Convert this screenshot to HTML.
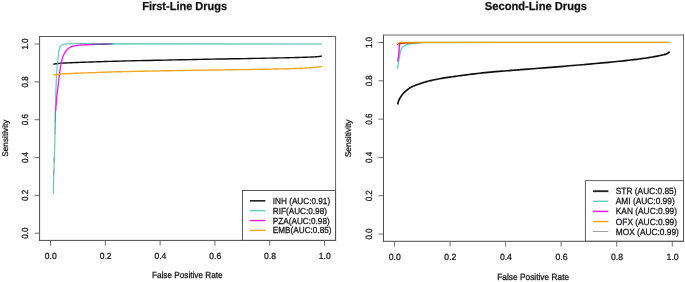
<!DOCTYPE html>
<html lang="en">
<head>
<meta charset="utf-8">
<title>ROC curves</title>
<style>
html,body{margin:0;padding:0;background:#fff;}
body{width:685px;height:282px;overflow:hidden;font-family:"Liberation Sans",sans-serif;}
svg{display:block;will-change:transform;}
svg text{text-rendering:geometricPrecision;stroke:#111;stroke-width:0.24px;}
</style>
</head>
<body>
<svg width="685" height="282" viewBox="0 0 685 282" role="img" aria-label="ROC curves for first-line and second-line drugs">
<rect x="0" y="0" width="685" height="282" fill="#ffffff"/>
<defs><filter id="soft" x="0" y="0" width="685" height="282" filterUnits="userSpaceOnUse"><feGaussianBlur stdDeviation="0.33"/></filter></defs>
<g filter="url(#soft)">
<g font-family="'Liberation Sans', sans-serif" fill="#111">
<text transform="translate(27.70,233.20) rotate(-90) scale(0.976,1.085)" text-anchor="middle" font-size="8.2">0.0</text>
<text transform="translate(50.80,258.80) scale(1,1.04)" text-anchor="middle" font-size="8.55">0.0</text>
<text transform="translate(27.70,195.37) rotate(-90) scale(0.976,1.085)" text-anchor="middle" font-size="8.2">0.2</text>
<text transform="translate(105.60,258.80) scale(1,1.04)" text-anchor="middle" font-size="8.55">0.2</text>
<text transform="translate(27.70,157.54) rotate(-90) scale(0.976,1.085)" text-anchor="middle" font-size="8.2">0.4</text>
<text transform="translate(160.40,258.80) scale(1,1.04)" text-anchor="middle" font-size="8.55">0.4</text>
<text transform="translate(27.70,119.71) rotate(-90) scale(0.976,1.085)" text-anchor="middle" font-size="8.2">0.6</text>
<text transform="translate(215.20,258.80) scale(1,1.04)" text-anchor="middle" font-size="8.55">0.6</text>
<text transform="translate(27.70,81.88) rotate(-90) scale(0.976,1.085)" text-anchor="middle" font-size="8.2">0.8</text>
<text transform="translate(270.00,258.80) scale(1,1.04)" text-anchor="middle" font-size="8.55">0.8</text>
<text transform="translate(27.70,44.05) rotate(-90) scale(0.976,1.085)" text-anchor="middle" font-size="8.2">1.0</text>
<text transform="translate(324.80,258.80) scale(1,1.04)" text-anchor="middle" font-size="8.55">1.0</text>
<text transform="translate(187.24,278.35) scale(1,1.08)" text-anchor="middle" font-size="8.2">False Positive Rate</text>
<text transform="translate(7.70,138.20) rotate(-90) scale(1.01,1)" text-anchor="middle" font-size="8.2">Sensitivity</text>
<text x="142.2" y="10.1" font-size="11.6" font-weight="bold" fill="#111" textLength="84.9" lengthAdjust="spacingAndGlyphs" style="stroke:#111;stroke-width:0.25px">First-Line Drugs</text>
<text transform="translate(372.00,234.05) rotate(-90) scale(0.958,1.085)" text-anchor="middle" font-size="8.35">0.0</text>
<text transform="translate(394.80,259.50) scale(1,1.04)" text-anchor="middle" font-size="8.65">0.0</text>
<text transform="translate(372.00,195.74) rotate(-90) scale(0.958,1.085)" text-anchor="middle" font-size="8.35">0.2</text>
<text transform="translate(450.36,259.50) scale(1,1.04)" text-anchor="middle" font-size="8.65">0.2</text>
<text transform="translate(372.00,157.43) rotate(-90) scale(0.958,1.085)" text-anchor="middle" font-size="8.35">0.4</text>
<text transform="translate(505.92,259.50) scale(1,1.04)" text-anchor="middle" font-size="8.65">0.4</text>
<text transform="translate(372.00,119.12) rotate(-90) scale(0.958,1.085)" text-anchor="middle" font-size="8.35">0.6</text>
<text transform="translate(561.48,259.50) scale(1,1.04)" text-anchor="middle" font-size="8.65">0.6</text>
<text transform="translate(372.00,80.81) rotate(-90) scale(0.958,1.085)" text-anchor="middle" font-size="8.35">0.8</text>
<text transform="translate(617.04,259.50) scale(1,1.04)" text-anchor="middle" font-size="8.65">0.8</text>
<text transform="translate(372.00,42.50) rotate(-90) scale(0.958,1.085)" text-anchor="middle" font-size="8.35">1.0</text>
<text transform="translate(672.60,259.50) scale(1,1.04)" text-anchor="middle" font-size="8.65">1.0</text>
<text transform="translate(533.17,280.40) scale(1,1.08)" text-anchor="middle" font-size="8.35">False Positive Rate</text>
<text transform="translate(351.25,138.40) rotate(-90) scale(1.01,1)" text-anchor="middle" font-size="8.35">Sensitivity</text>
<text x="484.8" y="10.1" font-size="11.6" font-weight="bold" fill="#111" textLength="102.2" lengthAdjust="spacingAndGlyphs" style="stroke:#111;stroke-width:0.25px">Second-Line Drugs</text>
</g>
<g fill="none" stroke-linejoin="round" stroke-linecap="butt">
<path d="M53.20,64.30 L53.46,64.25 L53.78,64.17 L54.16,64.08 L54.60,63.99 L55.10,63.89 L55.67,63.78 L56.30,63.69 L57.00,63.60 L57.75,63.52 L58.54,63.44 L59.38,63.37 L60.30,63.29 L61.30,63.22 L62.41,63.15 L63.64,63.07 L65.00,63.00 L66.51,62.93 L68.14,62.85 L69.89,62.78 L71.75,62.71 L73.70,62.63 L75.73,62.56 L77.84,62.48 L80.00,62.40 L82.26,62.32 L84.65,62.23 L87.13,62.14 L89.69,62.05 L92.28,61.96 L94.88,61.87 L97.47,61.78 L100.00,61.70 L102.36,61.62 L104.53,61.55 L106.62,61.48 L108.75,61.41 L111.04,61.34 L113.59,61.27 L116.54,61.19 L120.00,61.10 L124.04,61.00 L128.59,60.89 L133.54,60.78 L138.75,60.66 L144.12,60.54 L149.53,60.43 L154.86,60.31 L160.00,60.20 L164.93,60.10 L169.77,60.00 L174.56,59.90 L179.38,59.80 L184.27,59.70 L189.30,59.60 L194.52,59.50 L200.00,59.40 L205.91,59.29 L212.27,59.17 L218.90,59.06 L225.62,58.94 L232.28,58.82 L238.67,58.71 L244.64,58.60 L250.00,58.50 L254.78,58.41 L259.14,58.33 L263.15,58.25 L266.88,58.17 L270.36,58.10 L273.67,58.04 L276.87,57.97 L280.00,57.90 L283.03,57.83 L285.89,57.77 L288.58,57.70 L291.12,57.64 L293.53,57.58 L295.80,57.52 L297.95,57.46 L300.00,57.40 L301.92,57.35 L303.70,57.29 L305.35,57.24 L306.88,57.19 L308.29,57.15 L309.61,57.10 L310.84,57.05 L312.00,57.00 L313.05,56.95 L313.97,56.90 L314.78,56.86 L315.51,56.81 L316.17,56.76 L316.79,56.71 L317.39,56.66 L318.00,56.60 L318.61,56.53 L319.21,56.45 L319.79,56.36 L320.32,56.28 L320.82,56.19 L321.25,56.11 L321.61,56.05 L321.90,56.00" stroke="#111" stroke-width="1.4"/>
<path d="M53.30,193.80 L53.35,191.88 L53.41,189.23 L53.49,186.09 L53.57,182.68 L53.66,179.24 L53.75,176.00 L53.84,172.94 L53.94,169.87 L54.04,166.76 L54.14,163.60 L54.25,160.35 L54.35,157.00 L54.46,153.56 L54.57,150.07 L54.68,146.50 L54.79,142.81 L54.90,138.99 L55.00,135.00 L55.09,130.62 L55.19,125.81 L55.27,120.88 L55.36,116.07 L55.43,111.69 L55.50,108.00 L55.55,105.18 L55.59,103.04 L55.62,101.31 L55.65,99.74 L55.69,98.06 L55.75,96.00 L55.82,93.52 L55.90,90.81 L55.99,88.00 L56.09,85.19 L56.19,82.48 L56.30,80.00 L56.42,77.74 L56.54,75.61 L56.68,73.59 L56.82,71.67 L56.96,69.81 L57.10,68.00 L57.25,66.24 L57.40,64.54 L57.56,62.91 L57.71,61.35 L57.86,59.88 L58.00,58.50 L58.13,57.21 L58.24,56.00 L58.36,54.88 L58.47,53.83 L58.58,52.88 L58.70,52.00 L58.83,51.22 L58.96,50.55 L59.09,49.96 L59.23,49.44 L59.37,48.96 L59.50,48.50 L59.63,48.08 L59.76,47.72 L59.89,47.41 L60.02,47.12 L60.16,46.86 L60.30,46.60 L60.44,46.35 L60.58,46.13 L60.73,45.93 L60.88,45.74 L61.06,45.57 L61.25,45.40 L61.47,45.24 L61.71,45.09 L61.96,44.96 L62.23,44.83 L62.51,44.71 L62.80,44.60 L63.08,44.50 L63.35,44.40 L63.63,44.32 L63.95,44.24 L64.33,44.17 L64.80,44.10 L65.37,44.04 L66.03,43.98 L66.74,43.92 L67.50,43.88 L68.26,43.84 L69.00,43.80 L69.59,43.77 L70.03,43.75 L70.48,43.73 L71.10,43.72 L72.05,43.71 L73.50,43.70 L75.47,43.69 L77.83,43.69 L80.53,43.69 L83.50,43.69 L86.68,43.69 L90.00,43.70 L93.84,43.71 L98.33,43.73 L103.03,43.75 L107.50,43.77 L111.30,43.79 L114.00,43.80" stroke="#5ccdb8" stroke-width="1.2"/>
<path d="M110,43.9 L321.9,43.95" stroke="#78d3c9" stroke-width="1.65"/>
<path d="M55.60,111.00 L55.63,110.65 L55.67,110.22 L55.72,109.69 L55.78,109.00 L55.85,108.12 L55.95,107.00 L56.07,105.58 L56.21,103.89 L56.36,102.00 L56.53,100.00 L56.71,97.97 L56.90,96.00 L57.11,94.01 L57.35,91.91 L57.60,89.79 L57.85,87.72 L58.09,85.76 L58.30,84.00 L58.47,82.49 L58.62,81.20 L58.75,80.02 L58.88,78.87 L59.03,77.66 L59.20,76.30 L59.40,74.74 L59.63,73.06 L59.86,71.31 L60.11,69.57 L60.36,67.91 L60.60,66.40 L60.85,65.02 L61.10,63.71 L61.35,62.49 L61.60,61.34 L61.85,60.28 L62.10,59.30 L62.34,58.43 L62.57,57.66 L62.81,56.97 L63.04,56.34 L63.27,55.76 L63.50,55.20 L63.73,54.68 L63.96,54.21 L64.19,53.78 L64.43,53.38 L64.66,52.99 L64.90,52.60 L65.14,52.21 L65.38,51.83 L65.62,51.46 L65.87,51.10 L66.13,50.74 L66.40,50.40 L66.69,50.06 L66.99,49.73 L67.30,49.40 L67.62,49.09 L67.96,48.78 L68.30,48.50 L68.65,48.23 L69.01,47.98 L69.39,47.74 L69.77,47.52 L70.18,47.30 L70.60,47.10 L71.02,46.91 L71.43,46.73 L71.86,46.57 L72.33,46.41 L72.87,46.26 L73.50,46.10 L74.24,45.94 L75.06,45.77 L75.95,45.61 L76.89,45.46 L77.84,45.32 L78.80,45.20 L79.75,45.10 L80.71,45.03 L81.69,44.96 L82.70,44.91 L83.77,44.86 L84.90,44.80 L86.12,44.74 L87.43,44.69 L88.78,44.64 L90.15,44.59 L91.50,44.54 L92.80,44.50 L94.03,44.46 L95.22,44.43 L96.39,44.39 L97.57,44.36 L98.76,44.33 L100.00,44.30 L101.38,44.26 L102.90,44.23 L104.45,44.19 L105.90,44.15 L107.12,44.12 L108.00,44.10" stroke="#f01ee6" stroke-width="1.38"/>
<path d="M55.3,122 L55.5,110" stroke="#4f6fb0" stroke-width="1.3" opacity="0.6"/>
<path d="M55.0,134 L55.3,122" stroke="#4f6fb0" stroke-width="1.3" opacity="0.33"/>
<path d="M53.95,163 L54.15,157" stroke="#7a78c0" stroke-width="0.8" opacity="0.8"/>
<path d="M53.55,176 L53.75,169" stroke="#7a78c0" stroke-width="0.8" opacity="0.8"/>
<defs><linearGradient id="gb" gradientUnits="userSpaceOnUse" x1="88" y1="0" x2="114" y2="0"><stop offset="0" stop-color="#e832e2" stop-opacity="0"/><stop offset="0.14" stop-color="#a446c0"/><stop offset="0.3" stop-color="#585aa2"/><stop offset="0.88" stop-color="#48629e"/><stop offset="1" stop-color="#78d3c9"/></linearGradient></defs>
<path d="M88,44.6 L96,44.35 L104,44.15 L114,44.0" stroke="url(#gb)" stroke-width="1.35"/>
<path d="M53.20,75.10 L53.46,75.05 L53.78,74.99 L54.16,74.92 L54.60,74.84 L55.10,74.76 L55.67,74.67 L56.30,74.58 L57.00,74.50 L57.75,74.42 L58.54,74.33 L59.38,74.24 L60.30,74.16 L61.30,74.07 L62.41,73.98 L63.64,73.89 L65.00,73.80 L66.51,73.71 L68.14,73.62 L69.89,73.54 L71.75,73.45 L73.70,73.36 L75.73,73.27 L77.84,73.19 L80.00,73.10 L82.26,73.01 L84.65,72.92 L87.13,72.84 L89.69,72.75 L92.28,72.66 L94.88,72.58 L97.47,72.49 L100.00,72.40 L102.36,72.31 L104.53,72.23 L106.62,72.14 L108.75,72.06 L111.04,71.97 L113.59,71.88 L116.54,71.79 L120.00,71.70 L124.04,71.60 L128.59,71.50 L133.54,71.40 L138.75,71.30 L144.12,71.20 L149.53,71.10 L154.86,71.00 L160.00,70.90 L164.93,70.81 L169.77,70.72 L174.56,70.63 L179.38,70.54 L184.27,70.46 L189.30,70.37 L194.52,70.29 L200.00,70.20 L205.91,70.11 L212.27,70.02 L218.90,69.93 L225.62,69.84 L232.28,69.76 L238.67,69.67 L244.64,69.58 L250.00,69.50 L254.78,69.42 L259.14,69.34 L263.15,69.27 L266.88,69.19 L270.36,69.12 L273.67,69.05 L276.87,68.97 L280.00,68.90 L283.03,68.83 L285.89,68.75 L288.58,68.68 L291.12,68.61 L293.53,68.53 L295.80,68.46 L297.95,68.38 L300.00,68.30 L301.92,68.22 L303.70,68.13 L305.35,68.04 L306.88,67.95 L308.29,67.86 L309.61,67.77 L310.84,67.68 L312.00,67.60 L313.05,67.52 L313.97,67.45 L314.78,67.37 L315.51,67.30 L316.17,67.23 L316.79,67.15 L317.39,67.08 L318.00,67.00 L318.61,66.91 L319.21,66.82 L319.79,66.71 L320.32,66.61 L320.82,66.52 L321.25,66.43 L321.61,66.35 L321.90,66.30" stroke="#f5a623" stroke-width="1.4"/>
<path d="M397.60,104.50 L397.67,104.24 L397.75,103.89 L397.86,103.47 L397.98,103.01 L398.10,102.53 L398.23,102.05 L398.37,101.60 L398.50,101.20 L398.63,100.84 L398.76,100.51 L398.90,100.19 L399.04,99.88 L399.19,99.57 L399.34,99.26 L399.51,98.94 L399.70,98.60 L399.90,98.24 L400.11,97.88 L400.34,97.50 L400.58,97.12 L400.82,96.74 L401.07,96.36 L401.33,95.98 L401.60,95.60 L401.87,95.22 L402.16,94.83 L402.45,94.44 L402.75,94.06 L403.06,93.67 L403.37,93.30 L403.68,92.94 L404.00,92.60 L404.32,92.28 L404.64,91.98 L404.96,91.70 L405.29,91.42 L405.63,91.15 L405.98,90.87 L406.33,90.59 L406.70,90.30 L407.08,89.99 L407.47,89.67 L407.86,89.35 L408.27,89.02 L408.68,88.70 L409.11,88.39 L409.55,88.09 L410.00,87.80 L410.46,87.53 L410.94,87.28 L411.43,87.03 L411.93,86.80 L412.44,86.57 L412.96,86.35 L413.48,86.12 L414.00,85.90 L414.50,85.68 L414.98,85.48 L415.45,85.29 L415.94,85.09 L416.45,84.89 L417.02,84.68 L417.67,84.45 L418.40,84.20 L419.23,83.92 L420.13,83.61 L421.09,83.28 L422.11,82.94 L423.18,82.60 L424.29,82.26 L425.43,81.92 L426.60,81.60 L427.81,81.29 L429.08,80.97 L430.40,80.66 L431.75,80.35 L433.12,80.05 L434.49,79.75 L435.86,79.47 L437.20,79.20 L438.45,78.95 L439.60,78.73 L440.70,78.53 L441.83,78.33 L443.04,78.13 L444.40,77.91 L445.96,77.67 L447.80,77.40 L449.95,77.09 L452.37,76.74 L455.00,76.37 L457.78,75.99 L460.64,75.60 L463.52,75.22 L466.36,74.85 L469.10,74.50 L471.76,74.17 L474.43,73.85 L477.09,73.53 L479.75,73.22 L482.41,72.93 L485.07,72.64 L487.74,72.36 L490.40,72.10 L493.12,71.85 L495.94,71.61 L498.78,71.38 L501.61,71.16 L504.37,70.96 L507.01,70.76 L509.47,70.57 L511.70,70.40 L513.44,70.26 L514.63,70.16 L515.51,70.09 L516.33,70.02 L517.34,69.93 L518.79,69.82 L520.93,69.64 L524.00,69.40 L528.08,69.08 L532.96,68.70 L538.48,68.28 L544.46,67.82 L550.74,67.33 L557.13,66.82 L563.48,66.31 L569.60,65.80 L575.79,65.27 L582.32,64.70 L589.03,64.11 L595.75,63.51 L602.31,62.92 L608.53,62.34 L614.25,61.80 L619.30,61.30 L623.66,60.85 L627.48,60.43 L630.86,60.04 L633.88,59.67 L636.62,59.32 L639.18,58.98 L641.64,58.64 L644.10,58.30 L646.49,57.96 L648.70,57.63 L650.74,57.30 L652.64,56.98 L654.40,56.67 L656.03,56.37 L657.56,56.08 L659.00,55.80 L660.31,55.54 L661.47,55.29 L662.50,55.05 L663.43,54.82 L664.25,54.60 L665.01,54.37 L665.72,54.14 L666.40,53.90 L667.03,53.63 L667.59,53.34 L668.08,53.03 L668.51,52.73 L668.88,52.44 L669.20,52.18 L669.47,51.96 L669.70,51.80" stroke="#111" stroke-width="1.65"/>
<path d="M397.60,68.50 L397.69,67.79 L397.82,66.81 L397.98,65.65 L398.14,64.40 L398.32,63.15 L398.50,62.00 L398.69,60.90 L398.89,59.77 L399.11,58.65 L399.32,57.56 L399.52,56.53 L399.70,55.60 L399.85,54.77 L399.99,54.01 L400.11,53.32 L400.23,52.68 L400.36,52.08 L400.50,51.50 L400.64,50.96 L400.78,50.48 L400.93,50.04 L401.09,49.62 L401.27,49.21 L401.50,48.80 L401.78,48.38 L402.09,47.97 L402.44,47.56 L402.80,47.18 L403.16,46.82 L403.50,46.50 L403.83,46.22 L404.17,45.97 L404.50,45.76 L404.83,45.56 L405.17,45.38 L405.50,45.20 L405.82,45.04 L406.13,44.89 L406.44,44.76 L406.77,44.63 L407.11,44.52 L407.50,44.40 L407.91,44.29 L408.34,44.19 L408.79,44.09 L409.27,43.99 L409.81,43.90 L410.40,43.80 L411.06,43.70 L411.79,43.59 L412.57,43.49 L413.37,43.39 L414.19,43.29 L415.00,43.20 L415.80,43.12 L416.60,43.05 L417.41,42.98 L418.24,42.92 L419.10,42.86 L420.00,42.80 L418.19,42.74 L413.12,42.68 L408.08,42.63 L406.36,42.58 L411.23,42.53 L426.00,42.50 L455.68,42.48 L498.65,42.46 L548.23,42.46 L597.71,42.45 L640.44,42.45 L669.70,42.45" stroke="#5fd0c0" stroke-width="1.3"/>
<path d="M397.70,61.70 L397.80,61.08 L397.95,60.23 L398.12,59.23 L398.30,58.13 L398.46,57.03 L398.60,56.00 L398.71,55.00 L398.80,53.97 L398.89,52.92 L398.96,51.90 L399.03,50.92 L399.10,50.00 L399.16,49.13 L399.21,48.28 L399.25,47.47 L399.29,46.72 L399.34,46.06 L399.40,45.50 L399.47,45.06 L399.54,44.74 L399.62,44.50 L399.71,44.31 L399.80,44.16 L399.90,44.00 L400.01,43.85 L400.14,43.74 L400.28,43.66 L400.41,43.59 L400.52,43.54 L400.60,43.50" stroke="#f01ee6" stroke-width="1.5"/>
<path d="M397.30,44.40 L397.43,44.27 L397.61,44.09 L397.83,43.88 L398.07,43.66 L398.33,43.46 L398.60,43.30 L398.86,43.18 L399.13,43.08 L399.41,42.99 L399.73,42.92 L400.08,42.86 L400.50,42.80 L400.94,42.75 L401.38,42.71 L401.87,42.67 L402.44,42.65 L403.14,42.62 L404.00,42.60 L405.07,42.58 L406.33,42.56 L407.72,42.54 L409.17,42.53 L410.61,42.51 L412.00,42.50 L410.54,42.49 L405.71,42.48 L400.89,42.47 L399.43,42.46 L404.68,42.45 L420.00,42.45 L450.52,42.45 L494.58,42.45 L545.35,42.45 L596.01,42.45 L639.74,42.45 L669.70,42.45" stroke="#f5a300" stroke-width="1.3"/>
<defs><linearGradient id="gr" gradientUnits="userSpaceOnUse" x1="397" y1="0" x2="425" y2="0"><stop offset="0" stop-color="#d81c12" stop-opacity="1"/><stop offset="0.28" stop-color="#cc3010" stop-opacity="1"/><stop offset="0.45" stop-color="#b05a10" stop-opacity="0.95"/><stop offset="0.8" stop-color="#c07808" stop-opacity="0.8"/><stop offset="1" stop-color="#f5a300" stop-opacity="0"/></linearGradient></defs>
<path d="M397.2,44.7 L398.8,43.85 L401,43.45 L406,43.25 L425,43.1" stroke="url(#gr)" stroke-width="0.95"/>
</g>
<line x1="249.8" y1="200.85" x2="265.4" y2="200.85" stroke="#000" stroke-width="1.4"/>
<text transform="translate(272.8,203.90) scale(1,1.07)" font-size="8.2" font-family="'Liberation Sans', sans-serif" fill="#111">INH (AUC:0.91)</text>
<line x1="249.8" y1="210.7" x2="265.4" y2="210.7" stroke="#4fcbbc" stroke-width="1.2"/>
<text transform="translate(272.8,213.75) scale(1,1.07)" font-size="8.2" font-family="'Liberation Sans', sans-serif" fill="#111">RIF(AUC:0.98)</text>
<line x1="249.8" y1="220.55" x2="265.4" y2="220.55" stroke="#f01ee6" stroke-width="1.45"/>
<text transform="translate(272.8,223.60) scale(1,1.07)" font-size="8.2" font-family="'Liberation Sans', sans-serif" fill="#111">PZA(AUC:0.98)</text>
<line x1="249.8" y1="230.4" x2="265.4" y2="230.4" stroke="#f5a010" stroke-width="1.35"/>
<text transform="translate(272.8,233.45) scale(1,1.07)" font-size="8.2" font-family="'Liberation Sans', sans-serif" fill="#111">EMB(AUC:0.85)</text>
<line x1="593.0" y1="191.2" x2="608.4" y2="191.2" stroke="#222" stroke-width="1.9"/>
<text transform="translate(615.8,194.25) scale(1,1.07)" font-size="8.35" font-family="'Liberation Sans', sans-serif" fill="#111">STR (AUC:0.85)</text>
<line x1="593.0" y1="201.25" x2="608.4" y2="201.25" stroke="#4fcbbc" stroke-width="1.25"/>
<text transform="translate(615.8,204.30) scale(1,1.07)" font-size="8.35" font-family="'Liberation Sans', sans-serif" fill="#111">AMI (AUC:0.99)</text>
<line x1="593.0" y1="211.4" x2="608.4" y2="211.4" stroke="#f01ee6" stroke-width="1.55"/>
<text transform="translate(615.8,214.45) scale(1,1.07)" font-size="8.35" font-family="'Liberation Sans', sans-serif" fill="#111">KAN (AUC:0.99)</text>
<line x1="593.0" y1="221.55" x2="608.4" y2="221.55" stroke="#f5a000" stroke-width="1.4"/>
<text transform="translate(615.8,224.60) scale(1,1.07)" font-size="8.35" font-family="'Liberation Sans', sans-serif" fill="#111">OFX (AUC:0.99)</text>
<line x1="593.0" y1="231.5" x2="608.4" y2="231.5" stroke="#8f8f8f" stroke-width="0.85"/>
<text transform="translate(615.8,234.55) scale(1,1.07)" font-size="8.35" font-family="'Liberation Sans', sans-serif" fill="#111">MOX (AUC:0.99)</text>
</g>
<g fill="none">
<path d="M39.6,36.5 V240.4" stroke="#4a4a4a" stroke-width="1.0" stroke-linecap="square"/>
<path d="M39.6,240.4 H335.57" stroke="#4a4a4a" stroke-width="1.0" stroke-linecap="square"/>
<path d="M39.6,36.5 H335.57" stroke="#5e5e5e" stroke-width="1.0" stroke-linecap="square"/>
<path d="M335.57,36.5 V240.4" stroke="#666666" stroke-width="1.0" stroke-linecap="square"/>
<line x1="34.60" y1="233.20" x2="39.60" y2="233.20" stroke="#5a5a5a" stroke-width="0.9"/>
<line x1="50.50" y1="240.40" x2="50.50" y2="245.70" stroke="#5a5a5a" stroke-width="0.9"/>
<line x1="34.60" y1="195.37" x2="39.60" y2="195.37" stroke="#5a5a5a" stroke-width="0.9"/>
<line x1="105.30" y1="240.40" x2="105.30" y2="245.70" stroke="#5a5a5a" stroke-width="0.9"/>
<line x1="34.60" y1="157.54" x2="39.60" y2="157.54" stroke="#5a5a5a" stroke-width="0.9"/>
<line x1="160.10" y1="240.40" x2="160.10" y2="245.70" stroke="#5a5a5a" stroke-width="0.9"/>
<line x1="34.60" y1="119.71" x2="39.60" y2="119.71" stroke="#5a5a5a" stroke-width="0.9"/>
<line x1="214.90" y1="240.40" x2="214.90" y2="245.70" stroke="#5a5a5a" stroke-width="0.9"/>
<line x1="34.60" y1="81.88" x2="39.60" y2="81.88" stroke="#5a5a5a" stroke-width="0.9"/>
<line x1="269.70" y1="240.40" x2="269.70" y2="245.70" stroke="#5a5a5a" stroke-width="0.9"/>
<line x1="34.60" y1="44.05" x2="39.60" y2="44.05" stroke="#5a5a5a" stroke-width="0.9"/>
<line x1="324.50" y1="240.40" x2="324.50" y2="245.70" stroke="#5a5a5a" stroke-width="0.9"/>
<path d="M383.5,35.0 V241.3" stroke="#4c4c4c" stroke-width="1.0" stroke-linecap="square"/>
<path d="M383.5,241.3 H683.55" stroke="#4c4c4c" stroke-width="1.0" stroke-linecap="square"/>
<path d="M383.5,35.0 H683.55" stroke="#6a6a6a" stroke-width="1.0" stroke-linecap="square"/>
<path d="M683.55,35.0 V241.3" stroke="#6a6a6a" stroke-width="1.0" stroke-linecap="square"/>
<line x1="378.50" y1="234.05" x2="383.50" y2="234.05" stroke="#606060" stroke-width="0.9"/>
<line x1="394.50" y1="241.30" x2="394.50" y2="246.60" stroke="#606060" stroke-width="0.9"/>
<line x1="378.50" y1="195.74" x2="383.50" y2="195.74" stroke="#606060" stroke-width="0.9"/>
<line x1="450.06" y1="241.30" x2="450.06" y2="246.60" stroke="#606060" stroke-width="0.9"/>
<line x1="378.50" y1="157.43" x2="383.50" y2="157.43" stroke="#606060" stroke-width="0.9"/>
<line x1="505.62" y1="241.30" x2="505.62" y2="246.60" stroke="#606060" stroke-width="0.9"/>
<line x1="378.50" y1="119.12" x2="383.50" y2="119.12" stroke="#606060" stroke-width="0.9"/>
<line x1="561.18" y1="241.30" x2="561.18" y2="246.60" stroke="#606060" stroke-width="0.9"/>
<line x1="378.50" y1="80.81" x2="383.50" y2="80.81" stroke="#606060" stroke-width="0.9"/>
<line x1="616.74" y1="241.30" x2="616.74" y2="246.60" stroke="#606060" stroke-width="0.9"/>
<line x1="378.50" y1="42.50" x2="383.50" y2="42.50" stroke="#606060" stroke-width="0.9"/>
<line x1="672.30" y1="241.30" x2="672.30" y2="246.60" stroke="#606060" stroke-width="0.9"/>
<rect x="242.45" y="190.5" width="93.12" height="49.90" fill="none" stroke="#505050" stroke-width="0.95"/>
<rect x="585.4" y="180.6" width="98.15" height="60.70" fill="none" stroke="#5c5c5c" stroke-width="0.95"/>
</g>
</svg>
</body>
</html>
